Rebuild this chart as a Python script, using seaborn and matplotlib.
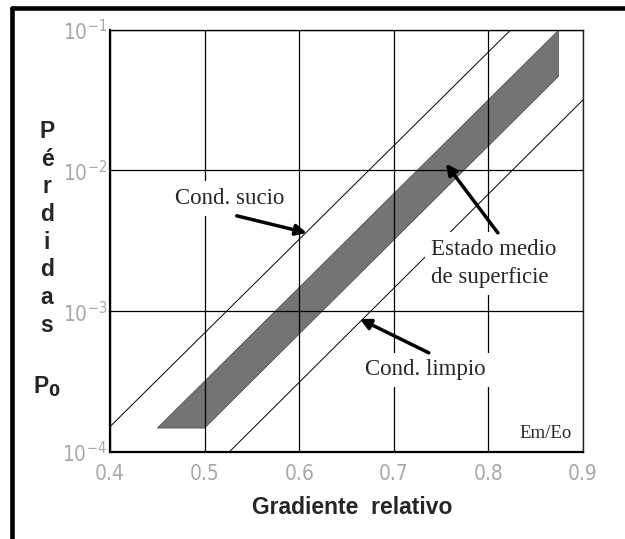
import matplotlib
matplotlib.use("Agg")
import matplotlib.pyplot as plt
import pandas as pd
import seaborn as sns
import numpy as np
from matplotlib.lines import Line2D
from matplotlib import font_manager as fm

# values
x_ticks = [0.4, 0.5, 0.6, 0.7, 0.8, 0.9]
x_tick_labels = ["0.4", "0.5", "0.6", "0.7", "0.8", "0.9"]
y_ticks = [1e-4, 1e-3, 1e-2, 1e-1]

sucio_x = [0.400, 0.824]
sucio_y = [10 ** -3.82, 10 ** -1.0]
limpio_x = [0.526, 0.900]
limpio_y = [10 ** -4.0, 10 ** -1.50]

band_x = [0.450, 0.874, 0.874, 0.500]
band_y = [10 ** -3.83, 10 ** -1.006, 10 ** -1.333, 10 ** -3.83]

labels = ["Cond. sucio", "Estado medio\nde superficie", "Cond. limpio"]
label_x = [0.526, 0.806, 0.733]
label_y = [10 ** -2.20, 10 ** -2.664, 10 ** -3.417]
arrow_tail_x = [0.534, 0.810, 0.737]
arrow_tail_y = [10 ** -2.323, 10 ** -2.444, 10 ** -3.296]
arrow_head_x = [0.608, 0.755, 0.664]
arrow_head_y = [10 ** -2.444, 10 ** -1.953, 10 ** -3.055]

lines_df = pd.DataFrame({
    "x": sucio_x + limpio_x,
    "y": sucio_y + limpio_y,
    "serie": ["sucio"] * 2 + ["limpio"] * 2,
})

sns.set_style("white")
plt.rcParams["font.family"] = ["DejaVu Sans"]

# narrow font for the tick labels, if one is installed
installed = fm.fontManager.ttflist
tick_font = fm.FontProperties(family="DejaVu Sans", size=15)
if any(f.name == "Liberation Sans Narrow" for f in installed):
    tick_font = fm.FontProperties(family="Liberation Sans Narrow", size=15)
elif any(f.name == "DejaVu Sans" and f.stretch == "condensed" for f in installed):
    tick_font = fm.FontProperties(family="DejaVu Sans", stretch="condensed", size=15)

fig = plt.figure(figsize=(6.25, 5.39), dpi=100)
ax = fig.add_axes([110 / 625, 87 / 539, 473 / 625, 422.5 / 539])

ax.fill(band_x, band_y, facecolor="#747474", edgecolor="#444444", lw=0.5, zorder=1)
sns.lineplot(data=lines_df, x="x", y="y", units="serie", estimator=None,
             color="black", lw=0.7, legend=False, ax=ax, zorder=2)

ax.set_yscale("log")
ax.set_xlim(0.4, 0.9)
ax.set_ylim(1e-4, 1e-1)
ax.set_xticks(x_ticks)
ax.set_xticklabels(x_tick_labels)
ax.set_yticks(y_ticks)
ax.minorticks_off()
ax.set_axisbelow(False)
ax.grid(True, color="black", lw=0.9)
ax.tick_params(axis="both", length=0, labelcolor="#a8a8a8")
ax.tick_params(axis="x", pad=9)
ax.tick_params(axis="y", pad=2)
for lab in ax.get_xticklabels() + ax.get_yticklabels():
    lab.set_fontproperties(tick_font)
ax.set_xlabel("")
ax.set_ylabel("")
for side in ["left", "bottom"]:
    ax.spines[side].set_linewidth(1.6)
    ax.spines[side].set_color("black")
for side in ["top", "right"]:
    ax.spines[side].set_linewidth(1.0)
    ax.spines[side].set_color("#222222")

serif = "Liberation Serif"
for i, txt in enumerate(labels):
    ax.text(label_x[i], label_y[i], txt, ha="center", va="center",
            multialignment="left", fontsize=16.5, family=serif,
            linespacing=1.45, zorder=4,
            bbox=dict(facecolor="white", edgecolor="none", pad=5))
    ax.annotate("", xy=(arrow_head_x[i], arrow_head_y[i]),
                xytext=(arrow_tail_x[i], arrow_tail_y[i]),
                arrowprops=dict(arrowstyle="-|>", color="black", lw=2.5,
                                mutation_scale=16, shrinkA=0, shrinkB=0),
                zorder=5)

ax.text(0.860, 10 ** -3.872, "Em/Eo", ha="center", va="center",
        fontsize=13.5, family=serif, zorder=4)

# stacked y label, one letter per line
sans = "Liberation Sans"
for k, ch in enumerate("Pérdidas"):
    fig.text(47 / 625, 1 - (138 + 27.7 * k) / 539, ch, ha="center", va="baseline",
             fontsize=16.5, fontweight="bold", family=sans)
fig.text(47 / 625, 1 - 393 / 539, r"P$_\mathbf{0}$", ha="center", va="baseline",
         fontsize=16.5, fontweight="bold", family=sans)

fig.text(352 / 625, 1 - 508 / 539, "Gradiente  relativo", ha="center", va="center",
         fontsize=16.5, fontweight="bold", family=sans)

# outer frame (only top and left edges visible)
fig.add_artist(Line2D([12 / 625, 1.0], [1 - 8 / 539, 1 - 8 / 539],
                      transform=fig.transFigure, color="black", lw=3.3))
fig.add_artist(Line2D([12 / 625, 12 / 625], [0.0, 1 - 8 / 539],
                      transform=fig.transFigure, color="black", lw=3.3))

fig.savefig("out.png", dpi=100)
